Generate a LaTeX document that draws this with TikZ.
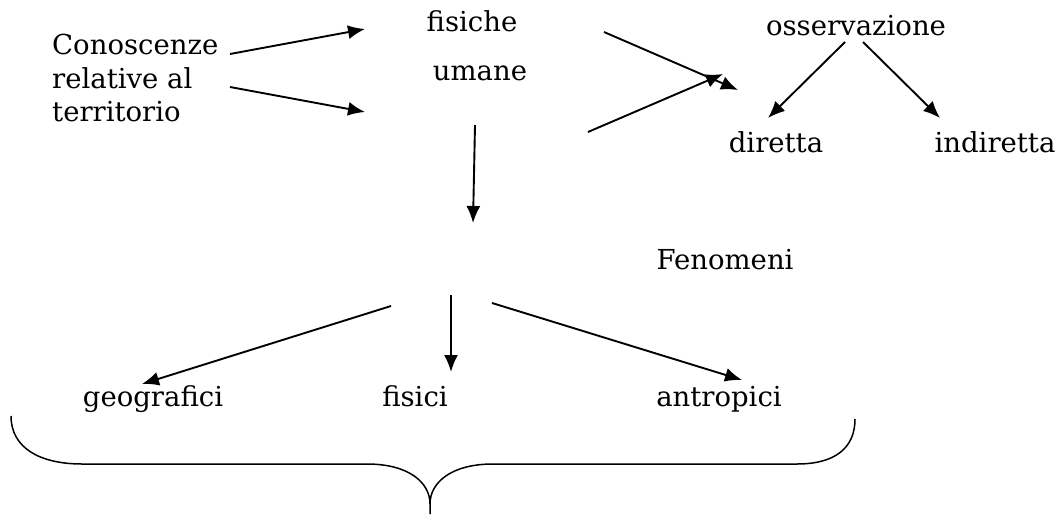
\documentclass[tikz,border=0pt]{standalone}
\usepackage{fontspec}
\setmainfont{DejaVu Serif}
\usetikzlibrary{arrows.meta}
\begin{document}
\begin{tikzpicture}[x=1pt,y=-1pt,
  lbl/.style={inner sep=0pt,anchor=base,font=\fontsize{27.5}{33}\selectfont},
  arr/.style={line width=1.9pt,-{Latex[length=17pt,width=14pt]}},
  brace/.style={line width=1.5pt}]
\useasboundingbox (0,0) rectangle (1059,514);
% texts
\node[lbl,anchor=base west] (con1) at (52,54) {Conoscenze};
\node[lbl,anchor=base west] (con2) at (52,88) {relative al};
\node[lbl,anchor=base west] (con3) at (52,121) {territorio};
\node[lbl] (fis) at (472,31) {fisiche};
\node[lbl] (uma) at (480,80) {umane};
\node[lbl] (oss) at (856,35) {osservazione};
\node[lbl] (dir) at (776,152) {diretta};
\node[lbl] (ind) at (995,152) {indiretta};
\node[lbl] (fen) at (725,269) {Fenomeni};
\node[lbl] (geo) at (153,406) {geografici};
\node[lbl] (fisi) at (415,406) {fisici};
\node[lbl] (ant) at (719,406) {antropici};
% arrow endpoints
\coordinate (a1s) at (230,54); \coordinate (a1e) at (365,29);
\coordinate (a2s) at (230,87); \coordinate (a2e) at (365,112);
\coordinate (b1s) at (604,32); \coordinate (b1e) at (738,90);
\coordinate (b2s) at (588,132); \coordinate (b2e) at (723,74);
\coordinate (o1s) at (845,42); \coordinate (o1e) at (768,118);
\coordinate (o2s) at (863,42); \coordinate (o2e) at (940,118);
\coordinate (vs) at (475,125); \coordinate (ve) at (473,223);
\coordinate (g1s) at (391,306); \coordinate (g1e) at (142,384);
\coordinate (g2s) at (451,295); \coordinate (g2e) at (451,372);
\coordinate (g3s) at (492,303); \coordinate (g3e) at (742,380);
\draw[arr] (a1s) -- (a1e);
\draw[arr] (a2s) -- (a2e);
\draw[arr] (b1s) -- (b1e);
\draw[arr] (b2s) -- (b2e);
\draw[arr] (o1s) -- (o1e);
\draw[arr] (o2s) -- (o2e);
\draw[arr] (vs) -- (ve);
\draw[arr] (g1s) -- (g1e);
\draw[arr] (g2s) -- (g2e);
\draw[arr] (g3s) -- (g3e);
% brace
\coordinate (bl) at (11,416);
\coordinate (bm) at (430,514);
\coordinate (br) at (855,419);
\draw[brace] (bl) .. controls (11,448) and (40,464) .. (82,464)
  -- (367,464) .. controls (408,464) and (430,482) .. (430,504) -- (bm)
  -- (430,504) .. controls (430,482) and (452,464) .. (493,464)
  -- (797,464) .. controls (835,464) and (855,448) .. (br);
\end{tikzpicture}
\end{document}
